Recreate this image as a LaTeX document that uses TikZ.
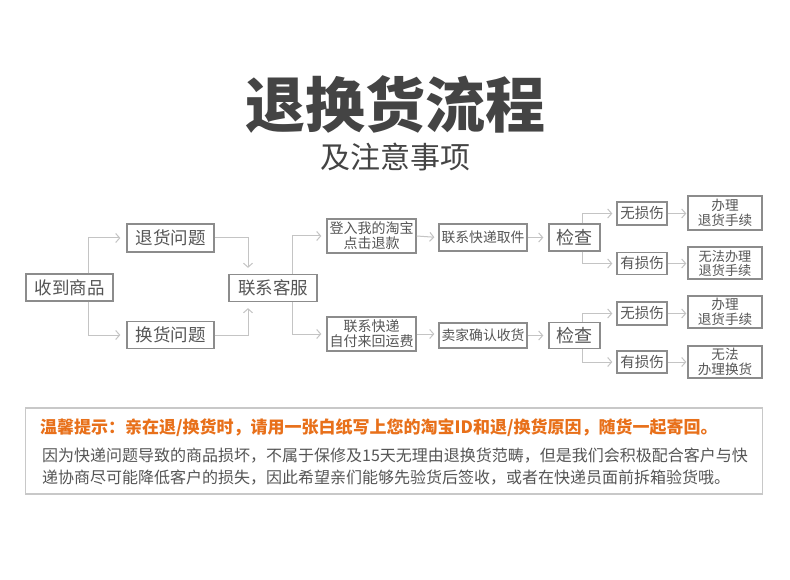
\documentclass[tikz,border=0pt]{standalone}
\usepackage{fontspec}
\usetikzlibrary{arrows.meta,calc}
\newfontfamily\cjk{Noto Sans CJK SC}
\definecolor{txtgray}{HTML}{555555}
\definecolor{boxgray}{HTML}{8C8C8C}
\definecolor{linegray}{HTML}{C4C4C4}
\definecolor{titlegray}{HTML}{444444}
\definecolor{tiporange}{HTML}{E8701A}
\definecolor{framegray}{HTML}{C8C8C8}
\tikzset{
  stepbox/.style={draw=boxgray, line width=1.3pt, rectangle, inner sep=0pt, align=center,
    text=txtgray, font=\cjk\fontsize{17.5}{19}\selectfont},
  smallbox/.style={stepbox, font=\cjk\fontsize{13.8}{14.5}\selectfont},
  conn/.style={draw=linegray, line width=1pt, -{Straight Barb[length=4pt,width=9pt,line width=1pt]}, shorten >=4pt},
}
\begin{document}
\begin{tikzpicture}[x=1pt,y=-1pt]
\useasboundingbox (0,0) rectangle (790,580);
\fill[white] (0,0) rectangle (790,580);
% titles
\node[text=titlegray, font=\cjk\bfseries\fontsize{60}{62}\selectfont] (title) at (395,104) {退换货流程};
\node[text=titlegray, font=\cjk\fontsize{30}{32}\selectfont] (subtitle) at (395,157) {及注意事项};
% main nodes
\node[stepbox, minimum width=87pt, minimum height=27pt] (a) at (69.5,287.5) {收到商品};
\node[stepbox, minimum width=87pt, minimum height=28pt] (b) at (170.5,238) {退货问题};
\node[stepbox, minimum width=87pt, minimum height=27pt] (c) at (170.5,335) {换货问题};
\node[stepbox, minimum width=88pt, minimum height=27pt] (d) at (273,288) {联系客服};
% upper row
\node[smallbox, minimum width=89pt, minimum height=34pt, font=\cjk\fontsize{14}{15}\selectfont] (e1) at (371.5,236) {登入我的淘宝\\点击退款};
\node[smallbox, minimum width=88pt, minimum height=27pt] (e2) at (483,237.5) {联系快递取件};
\node[stepbox, minimum width=51pt, minimum height=27pt, font=\cjk\fontsize{18}{19}\selectfont] (e3) at (574.5,237.5) {检查};
\node[smallbox, minimum width=50pt, minimum height=23pt, font=\cjk\fontsize{14.5}{15}\selectfont] (f1) at (642,213.5) {无损伤};
\node[smallbox, minimum width=50pt, minimum height=22pt, font=\cjk\fontsize{14.5}{15}\selectfont] (f2) at (642,263.5) {有损伤};
\node[smallbox, minimum width=74pt, minimum height=34pt, font=\cjk\fontsize{13.6}{14.5}\selectfont] (g1) at (725,213) {办理\\退货手续};
\node[smallbox, minimum width=74pt, minimum height=32pt, font=\cjk\fontsize{13.2}{14}\selectfont] (g2) at (725,263) {无法办理\\退货手续};
% lower row
\node[smallbox, minimum width=89pt, minimum height=34pt, font=\cjk\fontsize{14}{15}\selectfont] (h1) at (371.5,334) {联系快递\\自付来回运费};
\node[smallbox, minimum width=88pt, minimum height=25pt] (h2) at (483,335.5) {卖家确认收货};
\node[stepbox, minimum width=51pt, minimum height=26pt, font=\cjk\fontsize{18}{19}\selectfont] (h3) at (574.5,335.5) {检查};
\node[smallbox, minimum width=50pt, minimum height=23pt, font=\cjk\fontsize{14.5}{15}\selectfont] (i1) at (642,313.5) {无损伤};
\node[smallbox, minimum width=50pt, minimum height=22pt, font=\cjk\fontsize{14.5}{15}\selectfont] (i2) at (642,362) {有损伤};
\node[smallbox, minimum width=74pt, minimum height=32pt, font=\cjk\fontsize{13.6}{14.5}\selectfont] (j1) at (725,312) {办理\\退货手续};
\node[smallbox, minimum width=74pt, minimum height=32pt, font=\cjk\fontsize{13.6}{14.5}\selectfont] (j2) at (725,362) {无法\\办理换货};
% connectors
\draw[conn, shorten >=6pt] ([xshift=18.5pt]a.north) |- (b.west);
\draw[conn, shorten >=6pt] ([xshift=18.5pt]a.south) |- (c.west);
\draw[conn, shorten >=6pt] (b.east) -| ([xshift=-25pt]d.north);
\draw[conn, shorten >=6pt] (c.east) -| ([xshift=-25pt]d.south);
\draw[conn, shorten >=5pt] ([xshift=19pt]d.north) |- (e1.west);
\draw[conn, shorten >=5pt] ([xshift=19pt]d.south) |- (h1.west);
\draw[conn] (e1.east) -- (e2.west);
\draw[conn, shorten >=5pt] (e2.east) -- (e3.west);
\draw[conn] ([xshift=7.5pt]e3.north) |- (f1.west);
\draw[conn] ([xshift=7.5pt]e3.south) |- (f2.west);
\draw[conn, shorten >=1pt] (f1.east) -- (f1.east -| g1.west);
\draw[conn, shorten >=1pt] (f2.east) -- (f2.east -| g2.west);
\draw[conn] (h1.east) -- (h1.east -| h2.west);
\draw[conn, shorten >=5pt] (h2.east) -- (h3.west);
\draw[conn] ([xshift=7.5pt]h3.north) |- (i1.west);
\draw[conn] ([xshift=7.5pt]h3.south) |- (i2.west);
\draw[conn, shorten >=1pt] (i1.east) -- (i1.east -| j1.west);
\draw[conn, shorten >=1pt] (i2.east) -- (i2.east -| j2.west);
% tip box
\node[draw=framegray, line width=1.5pt, minimum width=737pt, minimum height=86pt, inner sep=0pt] (tipbox) at (394,451) {};
\node[anchor=west, text=tiporange, font=\cjk\bfseries\fontsize{17}{18}\selectfont, inner sep=0pt] (tip) at (40,428) {温馨提示：亲在退/换货时，请用一张白纸写上您的淘宝ID和退/换货原因，随货一起寄回。};
\node[anchor=west, text=txtgray, font=\cjk\fontsize{16}{17}\selectfont, inner sep=0pt] (line1) at (42,456) {因为快递问题导致的商品损坏，不属于保修及15天无理由退换货范畴，但是我们会积极配合客户与快};
\node[anchor=west, text=txtgray, font=\cjk\fontsize{16}{17}\selectfont, inner sep=0pt] (line2) at (42,478) {递协商尽可能降低客户的损失，因此希望亲们能够先验货后签收，或者在快递员面前拆箱验货哦。};
\end{tikzpicture}
\end{document}
